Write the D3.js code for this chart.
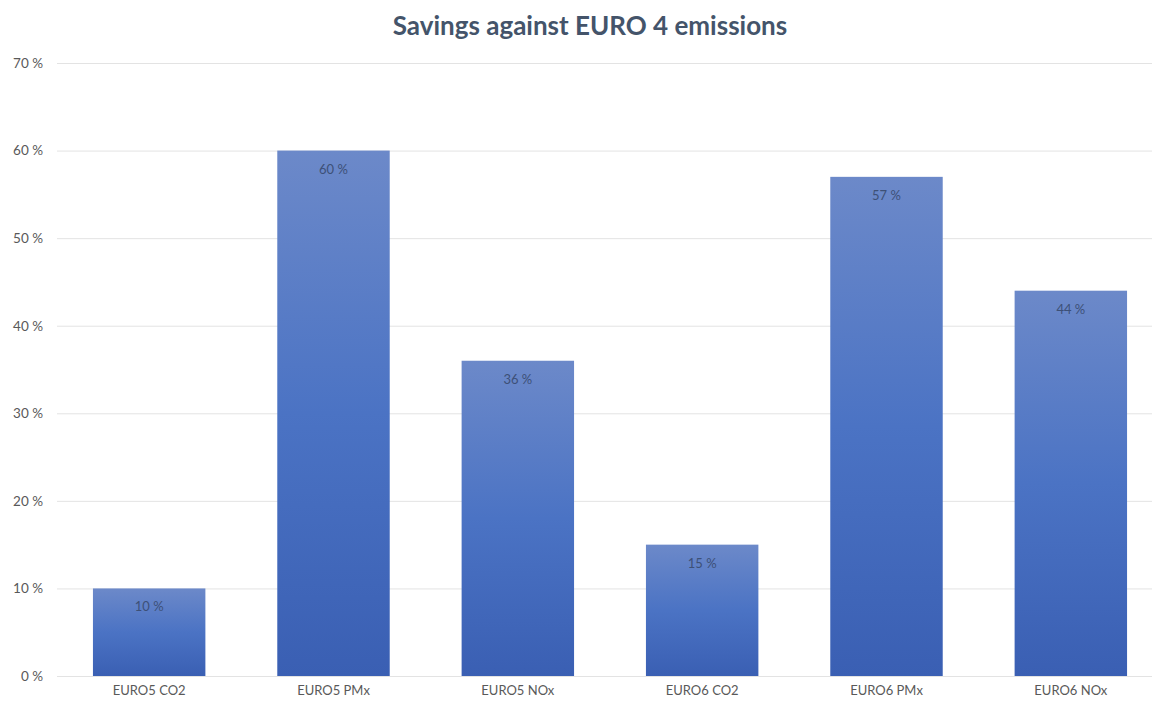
<!DOCTYPE html>
<html>
<head>
<meta charset="utf-8">
<script src="https://cdn.jsdelivr.net/npm/d3@7"></script>
<style>
  html, body { margin: 0; padding: 0; background: #ffffff; }
  svg { display: block; }
</style>
</head>
<body>
<svg id="chart" width="1152" height="701"></svg>
<script>
// Emission savings relative to EURO 4
const categories = ["EURO5 CO2", "EURO5 PMx", "EURO5 NOx", "EURO6 CO2", "EURO6 PMx", "EURO6 NOx"];
const savings = [10, 60, 36, 15, 57, 44];
const yTicks = [0, 10, 20, 30, 40, 50, 60, 70];
const title = "Savings against EURO 4 emissions";

const W = 1152, H = 701;
const svg = d3.select("#chart");
const font = "Lato, 'Open Sans', sans-serif";

const x = d3.scaleBand().domain(categories).range([57, 1163]).paddingInner(0.39).paddingOuter(0.195);
const y = d3.scaleLinear().domain([0, 70]).range([676, 63]);

// per-bar vertical gradient
const defs = svg.append("defs");
const grad = defs.append("linearGradient")
  .attr("id", "barFill")
  .attr("x1", 0).attr("y1", 0).attr("x2", 0).attr("y2", 1);
grad.append("stop").attr("offset", "0%").attr("stop-color", "#6c89c9");
grad.append("stop").attr("offset", "50%").attr("stop-color", "#4b73c4");
grad.append("stop").attr("offset", "100%").attr("stop-color", "#3a5fb3");

// title
svg.append("text")
  .attr("x", 590).attr("y", 35)
  .attr("text-anchor", "middle")
  .attr("font-family", font)
  .attr("font-weight", "bold")
  .attr("font-size", 26)
  .attr("fill", "#44546a")
  .text(title);

// gridlines + y axis labels
const yAxis = d3.axisLeft(y).tickValues(yTicks).tickSize(0).tickPadding(0)
  .tickFormat(d => d + " %");
const gy = svg.append("g").attr("transform", "translate(43,0)").call(yAxis);
gy.select(".domain").remove();
gy.selectAll("text")
  .attr("font-family", font).attr("font-size", 13.5).attr("fill", "#595959");

svg.append("g").selectAll("line").data(yTicks).join("line")
  .attr("x1", 57).attr("x2", W)
  .attr("y1", d => y(d) + 0.5).attr("y2", d => y(d) + 0.5)
  .attr("stroke", "#e3e3e3").attr("stroke-width", 1);

// bars
svg.append("g").selectAll("rect").data(savings).join("rect")
  .attr("x", (d, i) => x(categories[i]))
  .attr("y", d => y(d))
  .attr("width", x.bandwidth())
  .attr("height", d => y(0) - y(d))
  .attr("fill", "url(#barFill)");

// value labels inside bars
svg.append("g").selectAll("text").data(savings).join("text")
  .attr("x", (d, i) => x(categories[i]) + x.bandwidth() / 2)
  .attr("y", d => y(d) + 23)
  .attr("text-anchor", "middle")
  .attr("font-family", font).attr("font-size", 13)
  .attr("fill", "#3d5077")
  .text(d => d + " %");

// category axis
const xAxis = d3.axisBottom(x).tickSize(0).tickPadding(0);
const gx = svg.append("g").attr("transform", "translate(0,686)").call(xAxis);
gx.select(".domain").remove();
gx.selectAll("text")
  .attr("font-family", font).attr("font-size", 13).attr("fill", "#595959")
  .attr("dy", "0.71em");
</script>
</body>
</html>
